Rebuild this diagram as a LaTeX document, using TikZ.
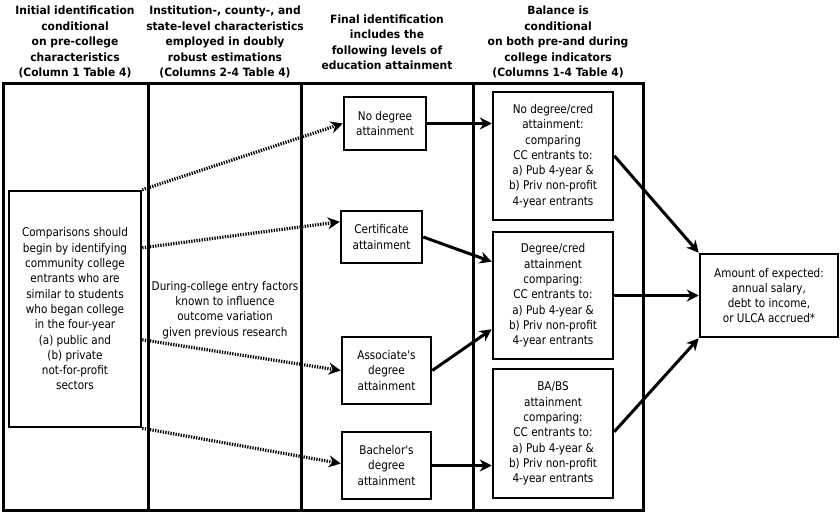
\documentclass[tikz,border=0pt]{standalone}
\usepackage{fontspec}
\setmainfont{DejaVu Sans}
\newfontfamily\bodyfont[FakeStretch=0.87]{DejaVu Sans}
\newfontfamily\hdrfont[FakeStretch=0.94]{DejaVu Sans Bold}
\usetikzlibrary{arrows.meta,calc}
\begin{document}
\begin{tikzpicture}[x=1pt,y=-1pt,
 hdr/.style={font=\hdrfont\fontsize{11.4}{15.5}\selectfont, align=center, inner sep=0},
 colbox/.style={draw, line width=3pt, minimum width=#1, minimum height=427, inner sep=0},
 box/.style={draw, line width=2.5pt, inner sep=0, align=center, font=\bodyfont\fontsize{12}{15.3}\selectfont},
 plain/.style={inner sep=0, align=center, font=\bodyfont\fontsize{12}{15.3}\selectfont},
 solidarr/.style={line width=3pt, -{Stealth[length=12pt,width=12pt]}},
 dotarr/.style={line width=3.2pt, dash pattern=on 1.3pt off 1.3pt, -{Stealth[length=12pt,width=12pt]}},
]
\useasboundingbox (0,0) rectangle (840,514);
% headers
\node[hdr] (h1) at (75,42) {Initial identification\\conditional\\on pre-college\\characteristics\\(Column 1 Table 4)};
\node[hdr] (h2) at (225,42) {Institution-, county-, and\\state-level characteristics\\employed in doubly\\robust estimations\\(Columns 2-4 Table 4)};
\node[hdr] (h3) at (387,42) {Final identification\\includes the\\following levels of\\education attainment};
\node[hdr] (h4) at (558,42) {Balance is\\conditional\\on both pre-and during\\college indicators\\(Columns 1-4 Table 4)};
% columns
\node[colbox=145] (c1) at (75.5,296.5) {};
\node[colbox=153] (c2) at (224.5,296.5) {};
\node[colbox=172] (c3) at (387,296.5) {};
\node[colbox=170] (c4) at (558,296.5) {};
% column 1
\node[box, minimum width=132, minimum height=236] (comp) at (75,309) {Comparisons should\\begin by identifying\\community college\\entrants who are\\similar to students\\who began college\\in the four-year\\(a) public and\\(b) private\\not-for-profit\\sectors};
% column 2
\node[plain] (during) at (225,310) {During-college entry factors\\known to influence\\outcome variation\\given previous research};
% column 3
\node[box, minimum width=82, minimum height=53] (nodeg) at (385,123.5) {No degree\\attainment};
\node[box, minimum width=81, minimum height=52] (cert) at (381.5,237) {Certificate\\attainment};
\node[box, minimum width=89, minimum height=67] (assoc) at (386.5,370.5) {Associate's\\degree\\attainment};
\node[box, minimum width=89, minimum height=67] (bach) at (386.5,465.5) {Bachelor's\\degree\\attainment};
% column 4
\node[box, minimum width=120, minimum height=128] (r1) at (553,156) {No degree/cred\\attainment:\\comparing\\CC entrants to:\\a) Pub 4-year \&\\b) Priv non-profit\\4-year entrants};
\node[box, minimum width=120, minimum height=127] (r2) at (553,295.5) {Degree/cred\\attainment\\comparing:\\CC entrants to:\\a) Pub 4-year \&\\b) Priv non-profit\\4-year entrants};
\node[box, minimum width=120, minimum height=129] (r3) at (553,433.5) {BA/BS\\attainment\\comparing:\\CC entrants to:\\a) Pub 4-year \&\\b) Priv non-profit\\4-year entrants};
% outcome
\node[box, minimum width=138, minimum height=83] (out) at (769,295.5) {Amount of expected:\\annual salary,\\debt to income,\\or ULCA accrued*};
% dotted arrows
\draw[dotarr] (comp.north east) -- (nodeg.west);
\draw[dotarr] ($(comp.north east)+(0,58)$) -- ($(cert.north west)+(0,12)$);
\draw[dotarr] ($(comp.north east)+(0,150)$) -- (assoc.west);
\draw[dotarr] (comp.south east) -- ($(bach.west)+(0,-2)$);
% solid arrows
\draw[solidarr] (nodeg.east) -- (r1.west |- nodeg.east);
\draw[solidarr] (cert.east) -- ($(r2.north west)+(0,31)$);
\draw[solidarr] (assoc.east) -- ($(r2.south west)+(0,-31)$);
\draw[solidarr] (bach.east) -- (r3.west |- bach.east);
\draw[solidarr] ($(r1.north east)+(0,65)$) -- (out.north west);
\draw[solidarr] (r2.east) -- (out.west);
\draw[solidarr] ($(r3.north east)+(0,64)$) -- (out.south west);
\end{tikzpicture}
\end{document}
